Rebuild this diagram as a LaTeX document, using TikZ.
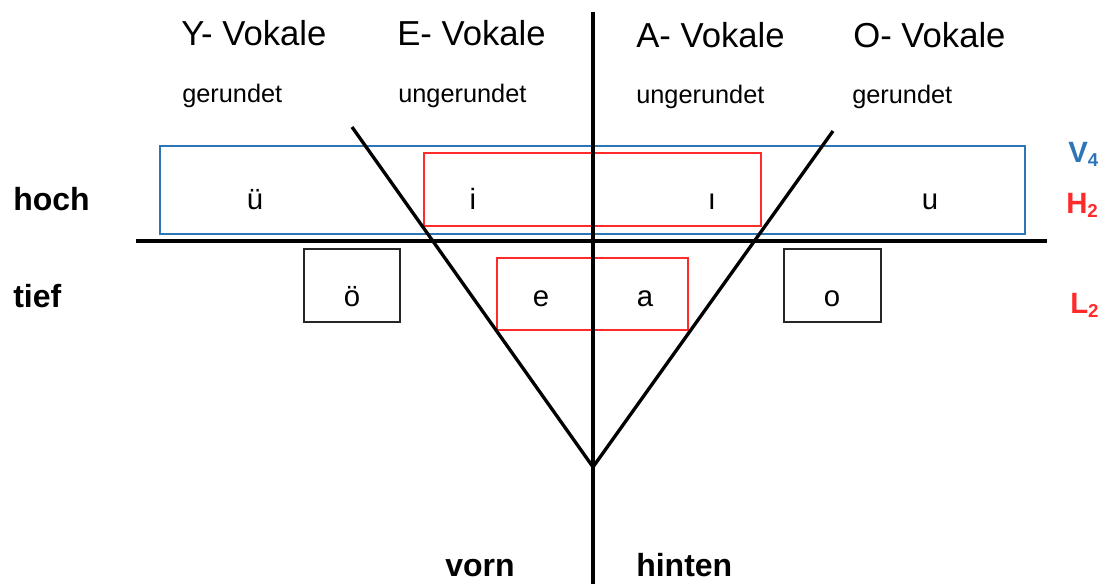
\documentclass[tikz,border=0pt]{standalone}
\usepackage{fontspec}
\setmainfont{Liberation Sans}
\definecolor{vblue}{HTML}{2E75B6}
\definecolor{vred}{HTML}{FF2A2A}
\newcommand{\vsub}[1]{\raisebox{-0.12em}{\fontsize{14}{16}\selectfont #1}}
\begin{document}
\begin{tikzpicture}[x=0.75pt,y=-0.75pt,
  axis/.style={line width=2.5pt,black},
  bbox/.style={draw=vblue,line width=2pt,inner sep=0pt},
  rbox/.style={draw=vred,line width=2pt,inner sep=0pt},
  kbox/.style={draw=black!85,line width=1.6pt,inner sep=0pt},
  head/.style={font=\fontsize{26}{30}\selectfont,inner sep=0pt,anchor=base west},
  sub/.style={font=\fontsize{19}{22}\selectfont,inner sep=0pt,anchor=base west},
  side/.style={font=\fontsize{24}{28}\selectfont\bfseries,inner sep=0pt,anchor=base west},
  vow/.style={font=\fontsize{22}{26}\selectfont,inner sep=0pt,anchor=base},
  lab/.style={font=\fontsize{22}{26}\selectfont\bfseries,inner sep=0pt,anchor=base west}]
\useasboundingbox (0,0) rectangle (1109,584);
% boxes
\node[bbox,minimum width=648.75pt,minimum height=66pt] (blue) at (592.5,190) {};
\node[rbox,minimum width=252.75pt,minimum height=54.75pt] (rtop) at (592.5,189.5) {};
\node[rbox,minimum width=143.25pt,minimum height=54pt] (rbot) at (592.5,294) {};
\node[kbox,minimum width=72pt,minimum height=54.75pt] (boxoe) at (352,285.5) {};
\node[kbox,minimum width=72.75pt,minimum height=54.75pt] (boxo) at (832.5,285.5) {};
% axes
\coordinate (vtop) at (593,12);
\coordinate (vbot) at (593,584);
\coordinate (hl) at (136,241);
\coordinate (hr) at (1047,241);
\coordinate (ltop) at (352,127);
\coordinate (rtopc) at (833,131);
\coordinate (apex) at (593,467);
\draw[axis] (vtop) -- (vbot);
\draw[axis] (hl) -- (hr);
\draw[axis,line join=miter] (ltop) -- (apex) -- (rtopc);
% headers
\node[head] (hy) at (181,46) {Y- Vokale};
\node[head] (he) at (397,46) {E- Vokale};
\node[head] (ha) at (636,48) {A- Vokale};
\node[head] (ho) at (853,48) {O- Vokale};
\node[sub] (sy) at (182,103) {gerundet};
\node[sub] (se) at (398,103) {ungerundet};
\node[sub] (sa) at (636,104) {ungerundet};
\node[sub] (so) at (852,104) {gerundet};
% vowels
\node[vow] (vu) at (255,210) {ü};
\node[vow] (vi) at (473,210) {i};
\node[vow] (vdi) at (712,210) {ı};
\node[vow] (vuu) at (930,210) {u};
\node[vow] (voe) at (352,306) {ö};
\node[vow] (ve) at (541,306) {e};
\node[vow] (va) at (645,306) {a};
\node[vow] (vo) at (832,306) {o};
% side labels
\node[side] (hoch) at (13,211) {hoch};
\node[side] (tief) at (13,308) {tief};
\node[side] (vorn) at (445,576) {vorn};
\node[side] (hinten) at (636,576) {hinten};
\node[lab,text=vblue] (v4) at (1068,163) {V\vsub{4}};
\node[lab,text=vred] (h2) at (1066,214) {H\vsub{2}};
\node[lab,text=vred] (l2) at (1070,314) {L\vsub{2}};
\end{tikzpicture}
\end{document}
